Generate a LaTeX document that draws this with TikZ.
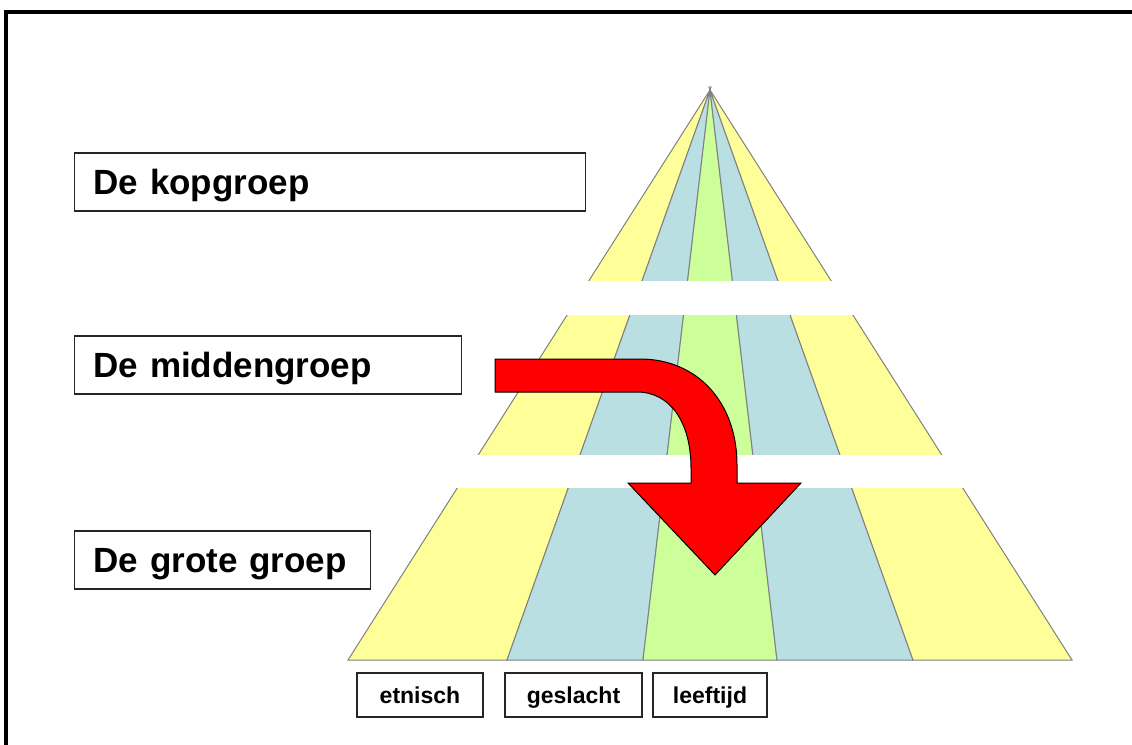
\documentclass[tikz,border=0pt]{standalone}
\usepackage{fontspec}
\setmainfont{Liberation Sans}
\definecolor{geel}{RGB}{255,255,153}
\definecolor{blauw}{RGB}{185,223,227}
\definecolor{groen}{RGB}{204,255,153}
\tikzset{
 groepvak/.style={draw=black!85,line width=1.3pt,fill=white,anchor=west,inner xsep=19pt,align=left,minimum height=58pt,text height=24pt,text depth=0pt,font=\fontsize{35}{40}\selectfont\bfseries},
 kenmerk/.style={draw=black!85,line width=1.3pt,minimum height=44pt,text height=16.5pt,text depth=0pt,font=\fontsize{23}{28}\selectfont\bfseries},
 rand/.style={draw=gray,line width=1pt},
}

\begin{document}
\begin{tikzpicture}[x=1pt,y=-1pt]
 \useasboundingbox (0,0) rectangle (1132,744);
 \draw[line width=4pt] (6,750) -- (6,12) -- (1140,12);

 \coordinate (T) at (710,90);
 \coordinate (B0) at (348,660);
 \coordinate (B1) at (507,660);
 \coordinate (B2) at (643,660);
 \coordinate (B3) at (777,660);
 \coordinate (B4) at (913,660);
 \coordinate (B5) at (1072,660);

\foreach \i/\j/\kleur in {0/1/geel,1/2/blauw,2/3/groen,3/4/blauw,4/5/geel}
 \draw[rand,fill=\kleur] (T) -- (B\i) -- (B\j) -- cycle;
% witte banden tussen de lagen
\fill[white] (330,281) rectangle (1090,315);
\fill[white] (330,455) rectangle (1090,488);

\node[groepvak,text width=473pt] (kop) at (74,182) {De kopgroep};
\node[groepvak,text width=349pt] (midden) at (74,365) {De middengroep};
\node[groepvak,text width=258pt] (groot) at (74,560) {De grote groep};

\node[kenmerk,minimum width=126pt] (etnisch) at (420,695) {etnisch};
\node[kenmerk,minimum width=137pt] (geslacht) at (573.5,695) {geslacht};
\node[kenmerk,minimum width=114pt] (leeftijd) at (710,695) {leeftijd};

% gebogen pijl
\draw[fill=red,draw=black,line width=1pt,line join=miter]
 (495,359) -- (640,359) .. controls (697,359) and (737,402) .. (737,465)
 -- (737,483) -- (801,483) -- (715,575) -- (628,483) -- (691,483) -- (691,468)
 .. controls (691,422) and (670,392) .. (637,392) -- (495,392) -- cycle;
  \end{tikzpicture}
\end{document}
